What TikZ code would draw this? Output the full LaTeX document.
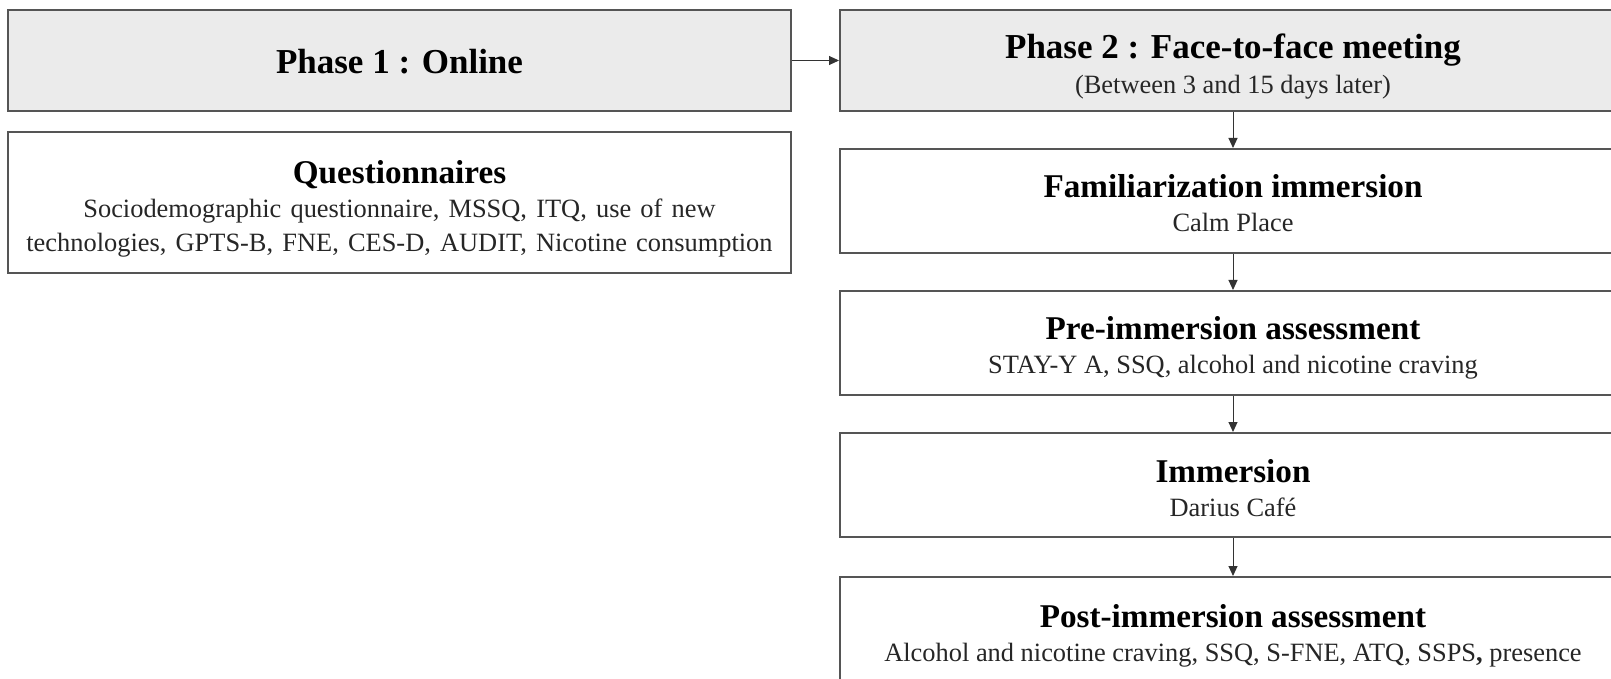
\documentclass[tikz,border=0pt]{standalone}
\usepackage{fontspec}
\setmainfont{Liberation Serif}
\usetikzlibrary{arrows.meta}
\definecolor{boxgray}{RGB}{235,235,235}
\definecolor{edgegray}{RGB}{85,85,85}
\newcommand\boxhead[2][14pt]{{\fontsize{16.6}{17}\selectfont\bfseries\color{black}\rule{0pt}{#1}#2}}
\newcommand\phasehead[1]{{\fontsize{17.5}{17}\selectfont\bfseries\color{black}#1}}

\begin{document}
\begin{tikzpicture}[x=0.5pt,y=-0.5pt,
  stepbox/.style={draw=edgegray,line width=1pt,fill=white,minimum width=393pt,
    minimum height=52pt,inner sep=0pt,align=center,
    font=\fontsize{13.2}{17}\selectfont,text=black!85},
  phasebox/.style={stepbox,fill=boxgray,minimum height=50.5pt},
  link/.style={draw=black!80,line width=0.5pt,-{Triangle[length=5pt,width=4.5pt]}}]
\useasboundingbox (0,0) rectangle (1611,679);
\clip (0,0) rectangle (1611,679);
\node[phasebox,minimum width=391.5pt] (phase1) at (399.5,60.5) {\phasehead{\rule{0pt}{13pt}Phase 1 : Online}};
\node[stepbox,minimum width=391.5pt,minimum height=70.5pt] (quest) at (399.5,202.5)
  {\boxhead[18pt]{Questionnaires}\\
   \spaceskip=4.6pt\relax Sociodemographic questionnaire, MSSQ, ITQ, use of new\\
   \spaceskip=4.6pt\relax technologies, GPTS-B, FNE, CES-D, AUDIT, Nicotine consumption};
\node[phasebox] (phase2) at (1233,60.5)
  {\phasehead{\rule{0pt}{18.5pt}Phase 2 : Face-to-face meeting}\\[0.5pt](Between 3 and 15 days later)};
\node[stepbox] (famil) at (1233,201)
  {\boxhead{Familiarization immersion}\\Calm Place};
\node[stepbox] (pre) at (1233,343)
  {\boxhead[16pt]{Pre-immersion assessment}\\STAY-Y A, SSQ, alcohol and nicotine craving};
\node[stepbox] (immer) at (1233,485)
  {\boxhead[15pt]{Immersion}\\Darius Café};
\node[stepbox] (post) at (1233,629)
  {\boxhead[18pt]{Post-immersion assessment}\\Alcohol and nicotine craving, SSQ, S-FNE, ATQ, SSPS\textbf{,} presence};
\draw[link] (phase1) -- (phase2);
\draw[link] (phase2) -- (famil);
\draw[link] (famil) -- (pre);
\draw[link] (pre) -- (immer);
\draw[link] (immer) -- (post);
\end{tikzpicture}
\end{document}
